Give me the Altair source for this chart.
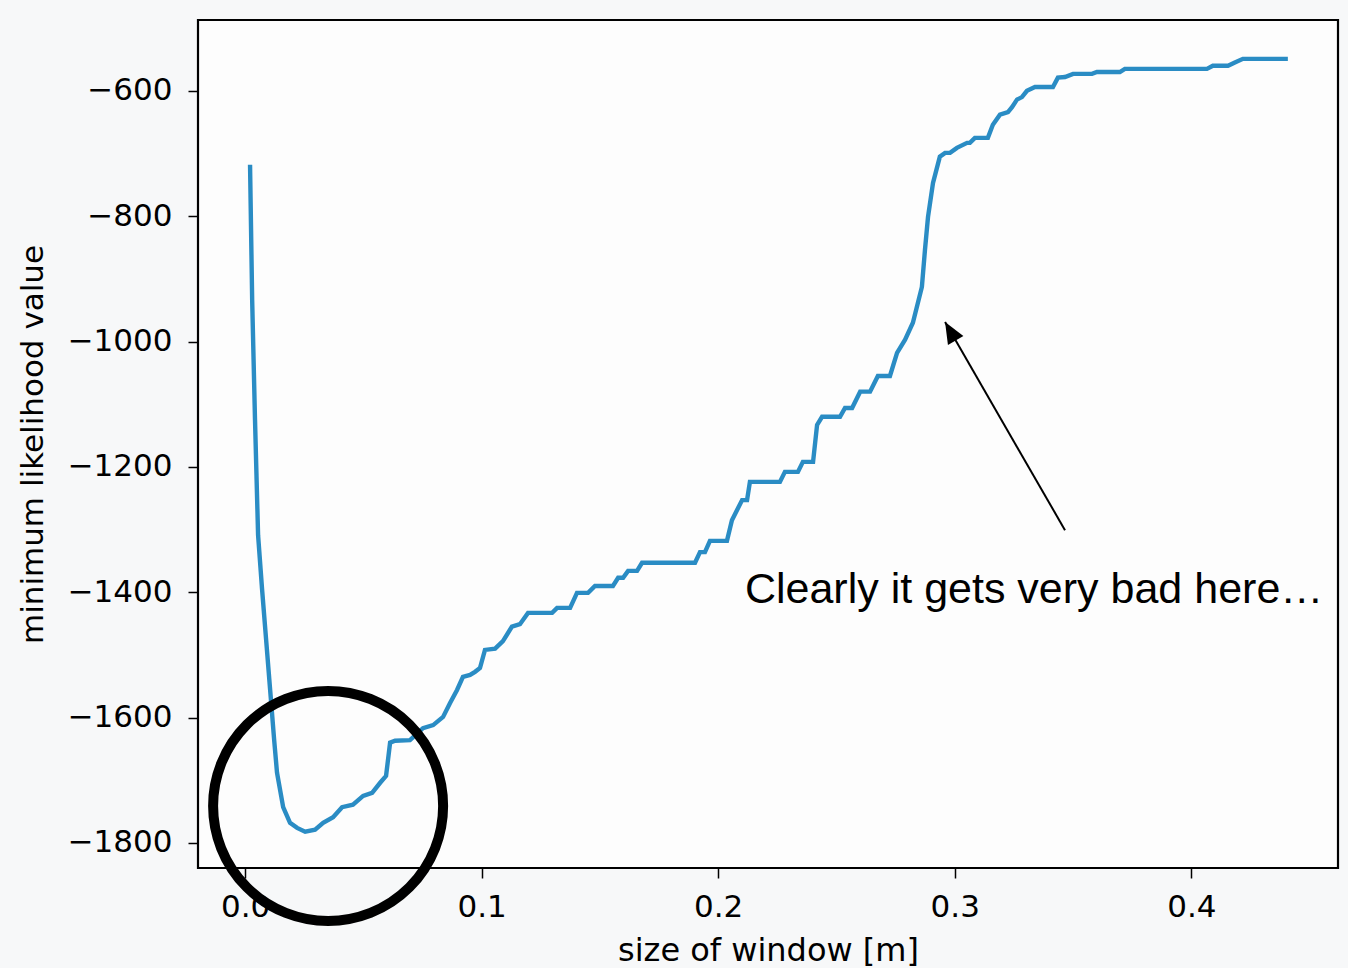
import altair as alt
import pandas as pd

# window size [m]
window_size = [
    0.0021, 0.0030, 0.0042, 0.0055, 0.0072, 0.0089, 0.0106, 0.0123, 0.0135, 0.0161,
    0.0190, 0.0220, 0.0254, 0.0296, 0.0330, 0.0372, 0.0410, 0.0456, 0.0499, 0.0537,
    0.0571, 0.0596, 0.0613, 0.0634, 0.0697, 0.0752, 0.0795, 0.0837, 0.0866, 0.0896,
    0.0921, 0.0951, 0.0972, 0.0993, 0.1014, 0.1057, 0.1090, 0.1128, 0.1162, 0.1196,
    0.1298, 0.1319, 0.1374, 0.1403, 0.1450, 0.1479, 0.1555, 0.1577, 0.1598, 0.1619,
    0.1657, 0.1678, 0.1902, 0.1923, 0.1944, 0.1965, 0.2037, 0.2058, 0.2101, 0.2122,
    0.2134, 0.2261, 0.2282, 0.2337, 0.2358, 0.2401, 0.2418, 0.2439, 0.2515, 0.2536,
    0.2566, 0.2600, 0.2642, 0.2675, 0.2726, 0.2756, 0.2790, 0.2823, 0.2861, 0.2874,
    0.2887, 0.2908, 0.2937, 0.2959, 0.2980, 0.3009, 0.3052, 0.3064, 0.3085, 0.3140,
    0.3161, 0.3191, 0.3225, 0.3242, 0.3263, 0.3284, 0.3305, 0.3339, 0.3415, 0.3436,
    0.3466, 0.3500, 0.3580, 0.3601, 0.3698, 0.3719, 0.4066, 0.4091, 0.4155, 0.4184,
    0.4218, 0.4408,
]
# minimum likelihood value
min_likelihood = [
    -718, -934, -1125, -1309, -1396, -1476, -1556, -1636, -1688, -1743,
    -1768, -1776, -1782, -1779, -1768, -1759, -1743, -1739, -1725, -1720,
    -1704, -1693, -1640, -1637, -1636, -1617, -1612, -1599, -1577, -1556,
    -1535, -1532, -1527, -1521, -1492, -1490, -1478, -1455, -1451, -1433,
    -1433, -1425, -1425, -1401, -1401, -1390, -1390, -1377, -1377, -1366,
    -1366, -1353, -1353, -1336, -1336, -1318, -1318, -1285, -1253, -1253,
    -1224, -1224, -1208, -1208, -1192, -1192, -1133, -1120, -1120, -1106,
    -1106, -1080, -1080, -1055, -1055, -1018, -997, -970, -913, -854,
    -801, -747, -705, -699, -699, -691, -683, -683, -675, -675,
    -654, -638, -634, -626, -614, -610, -600, -594, -594, -579,
    -578, -573, -573, -570, -570, -565, -565, -560, -560, -555,
    -549, -549,
]

x_ticks = [0.0, 0.1, 0.2, 0.3, 0.4]
y_ticks = [-600, -800, -1000, -1200, -1400, -1600, -1800]
x_domain = [-0.0199, 0.4620]
y_domain = [-1840, -487]

annotation_text = ["Clearly it gets very bad here…"]
annotation_pos = {"x": [0.2113], "y": [-1417]}
arrow = {"x": [0.3466], "y": [-1301], "x2": [0.2959], "y2": [-969]}
circle_center = {"x": [0.0351], "y": [-1741]}

df = pd.DataFrame({"x": window_size, "y": min_likelihood})

xscale = alt.Scale(domain=x_domain, nice=False, zero=False)
yscale = alt.Scale(domain=y_domain, nice=False, zero=False)

FONT = "DejaVu Sans"

x_axis = alt.Axis(
    values=x_ticks, format=".1f", title="size of window [m]",
    grid=False, domain=False, tickColor="black", tickWidth=1.5, tickSize=10,
    labelFont=FONT, labelFontSize=31, labelColor="black", labelPadding=14,
    titleFont=FONT, titleFontSize=32, titleFontWeight="normal", titleColor="black",
    titlePadding=13,
)
y_axis = alt.Axis(
    values=y_ticks, format="d", title="minimum likelihood value",
    labelExpr="replace(datum.label, '-', '\u2212')",
    grid=False, domain=False, tickColor="black", tickWidth=1.5, tickSize=10,
    labelFont=FONT, labelFontSize=31, labelColor="black", labelPadding=16,
    titleFont=FONT, titleFontSize=31, titleFontWeight="normal", titleColor="black",
    titlePadding=18,
)

line = alt.Chart(df).mark_line(color="#2a8cc4", strokeWidth=4.4).encode(
    x=alt.X("x:Q", scale=xscale, axis=x_axis),
    y=alt.Y("y:Q", scale=yscale, axis=y_axis),
)

arrow_df = pd.DataFrame(arrow)
arrow_line = alt.Chart(arrow_df).mark_rule(color="black", strokeWidth=2).encode(
    x=alt.X("x:Q", scale=xscale), y=alt.Y("y:Q", scale=yscale),
    x2="x2:Q", y2="y2:Q",
)
arrow_head = alt.Chart(arrow_df).mark_point(
    shape="M0,0L-0.42,1L0.42,1Z", filled=True, color="black", opacity=1,
    size=1800, angle=330,
).encode(x=alt.X("x2:Q", scale=xscale), y=alt.Y("y2:Q", scale=yscale))

text_df = pd.DataFrame({"x": annotation_pos["x"], "y": annotation_pos["y"], "t": annotation_text})
text = alt.Chart(text_df).mark_text(
    align="left", baseline="alphabetic", font="Liberation Sans", fontSize=43, color="black",
).encode(x=alt.X("x:Q", scale=xscale), y=alt.Y("y:Q", scale=yscale), text="t:N")

circ = alt.Chart(pd.DataFrame(circle_center)).mark_point(
    shape="circle", filled=False, color="black", strokeWidth=10, opacity=1, size=52900,
).encode(x=alt.X("x:Q", scale=xscale), y=alt.Y("y:Q", scale=yscale))

chart = alt.layer(line, arrow_line, arrow_head, text, circ).properties(
    width=1140, height=848,
    autosize=alt.AutoSizeParams(type="none"),
    padding={"left": 198, "top": 20, "right": 10, "bottom": 100},
    background="#f7f8f9",
).configure_view(
    fill="#fdfdfd", stroke="black", strokeWidth=2.2,
)

chart.save("out.html", embed_options={"renderer": "svg", "actions": False})
